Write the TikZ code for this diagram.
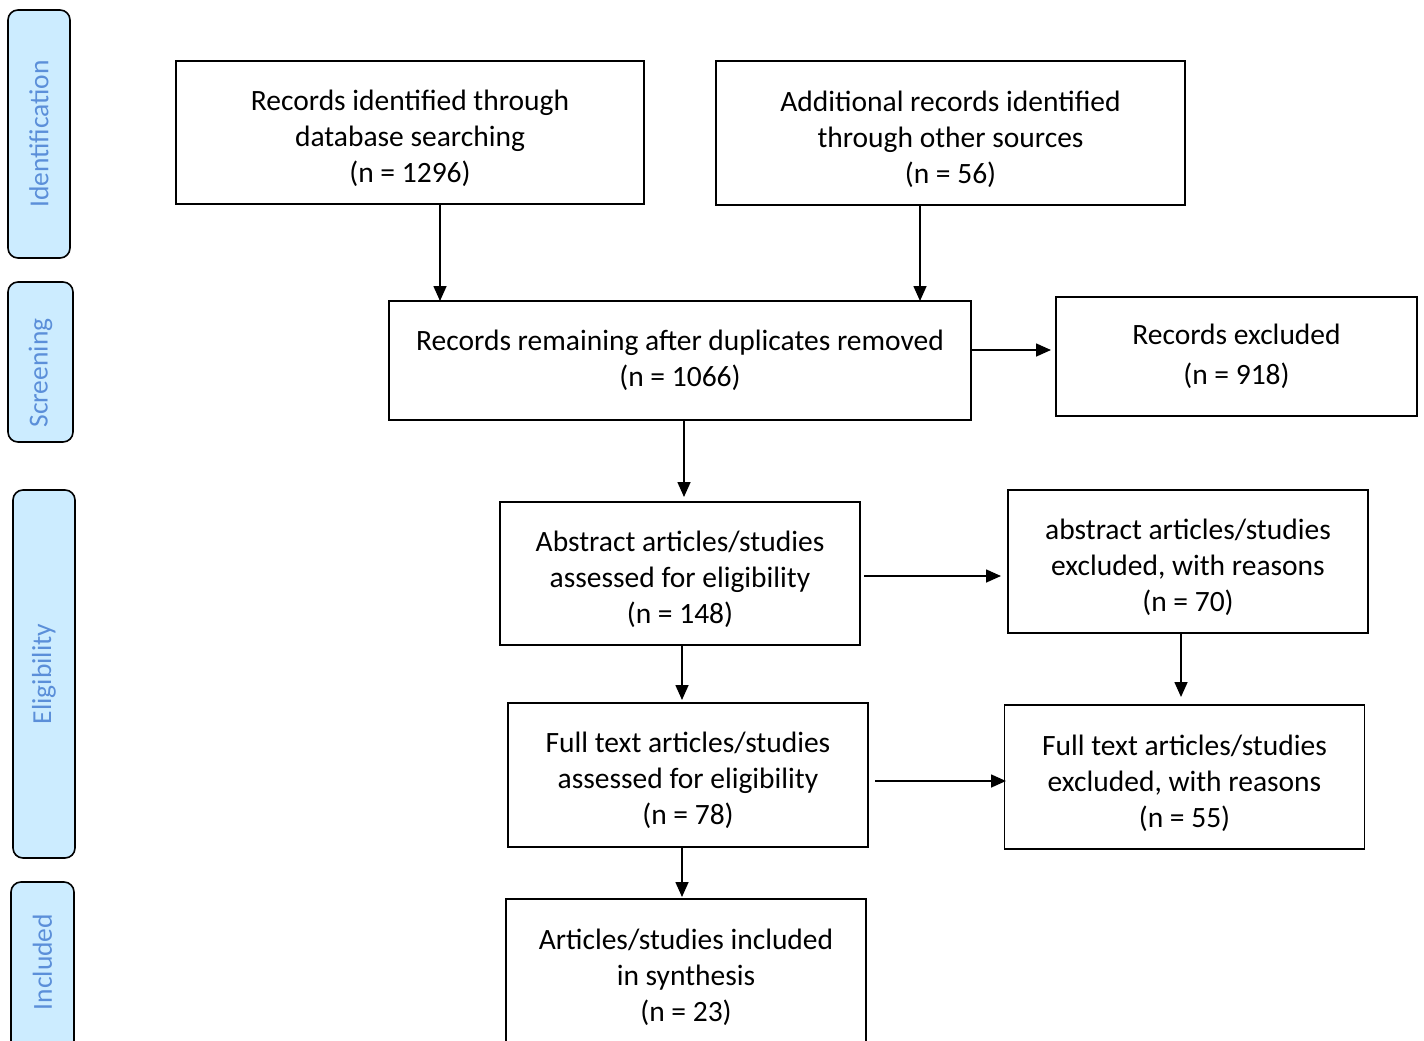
\documentclass[tikz,border=0pt]{standalone}
\usepackage{fontspec}
\setmainfont{Carlito}
\usetikzlibrary{arrows.meta}
\definecolor{sidefill}{HTML}{CCECFF}
\definecolor{sidetext}{HTML}{5B8FD9}
\begin{document}
\begin{tikzpicture}[x=1pt,y=-1pt,
  frame/.style n args={2}{draw,line width=1.6pt,minimum width=#1,minimum height=#2,inner sep=0pt},
  txt/.style={align=center,font=\fontsize{29.5}{36}\selectfont,inner sep=0pt},
  side/.style={draw,line width=1.6pt,fill=sidefill,rounded corners=10pt},
  sidelab/.style={rotate=90,text=sidetext,font=\fontsize{27.5}{30}\selectfont},
  arr/.style={line width=1.6pt,-{Triangle[length=15pt,width=13pt]}}]
\useasboundingbox (0,0) rectangle (1424,1041);
\clip (0,0) rectangle (1424,1041);
% side bars
\draw[side] (8,10) rectangle (70,258);
\node[sidelab] (sid) at (39,134) {Identification};
\draw[side] (8,282) rectangle (73,442);
\node[sidelab] (sscr) at (40.5,373) {Screening};
\draw[side] (13,490) rectangle (75,858);
\node[sidelab] (sel) at (44,674) {Eligibility};
\draw[side] (11,882) rectangle (74,1080);
\node[sidelab] (sinc) at (42.5,962) {Included};
% boxes
\node[frame={468pt}{143pt}] (a) at (410,132.5) {};
\node[txt] (at) at (410,138.5) {Records identified through\\database searching\\(n = 1296)};
\node[frame={469pt}{144pt}] (b) at (950.5,133) {};
\node[txt] (bt) at (950.5,139) {Additional records identified\\through other sources\\(n = 56)};
\node[frame={582pt}{119pt}] (c) at (680,360.5) {};
\node[txt] (ct) at (680,360.5) {Records remaining after duplicates removed\\(n = 1066)};
\node[frame={361pt}{119pt}] (d) at (1236.5,356.5) {};
\node[txt] (dt) at (1236.5,356.5) {Records excluded\\[4pt](n = 918)};
\node[frame={360pt}{143pt}] (e) at (680,573.5) {};
\node[txt] (et) at (680,579.5) {Abstract articles/studies\\assessed for eligibility\\(n = 148)};
\node[frame={360pt}{143pt}] (f) at (1188,561.5) {};
\node[txt] (ft) at (1188,567.5) {abstract articles/studies\\excluded, with reasons\\(n = 70)};
\node[frame={360pt}{144pt}] (g) at (688,775) {};
\node[txt] (gt) at (688,780.5) {Full text articles/studies\\assessed for eligibility\\(n = 78)};
\node[frame={360pt}{144pt}] (h) at (1184.5,777) {};
\node[txt] (ht) at (1184.5,783) {Full text articles/studies\\excluded, with reasons\\(n = 55)};
\node[frame={360pt}{180pt}] (i) at (686,989) {};
\node[txt] (it) at (686,977) {Articles/studies included\\in synthesis\\(n = 23)};
% arrow endpoints
\coordinate (acs) at (440,204);
\coordinate (ace) at (440,301);
\coordinate (bcs) at (920,205);
\coordinate (bce) at (920,301);
\coordinate (cds) at (971,350);
\coordinate (cde) at (1051,350);
\coordinate (ces) at (684,420);
\coordinate (cee) at (684,497);
\coordinate (efs) at (864,576);
\coordinate (efe) at (1001,576);
\coordinate (fhs) at (1181,633);
\coordinate (fhe) at (1181,697);
\coordinate (egs) at (682,645);
\coordinate (ege) at (682,700);
\coordinate (ghs) at (875,781);
\coordinate (ghe) at (1006,781);
\coordinate (gis) at (682,847);
\coordinate (gie) at (682,897);
\draw[arr] (acs) -- (ace);
\draw[arr] (bcs) -- (bce);
\draw[arr] (cds) -- (cde);
\draw[arr] (ces) -- (cee);
\draw[arr] (efs) -- (efe);
\draw[arr] (fhs) -- (fhe);
\draw[arr] (egs) -- (ege);
\draw[arr] (ghs) -- (ghe);
\draw[arr] (gis) -- (gie);
\end{tikzpicture}
\end{document}
